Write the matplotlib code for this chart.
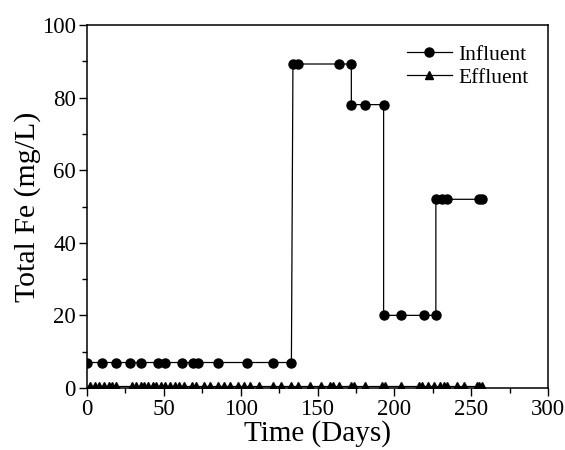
import matplotlib
matplotlib.use("Agg")
import matplotlib.pyplot as plt
from matplotlib.ticker import MultipleLocator

plt.rcParams['font.family'] = ['Liberation Serif', 'DejaVu Serif']

# Influent total Fe (mg/L) by day
inf_days = [0, 10, 19, 28, 35, 46, 51, 62, 69, 72, 85, 104, 121, 133,
            134, 137, 164, 172,
            172, 181, 193,
            193, 204, 219, 227,
            227, 231, 234, 255, 257]
inf_fe = [7.0] * 14 + [89.3] * 4 + [78.1] * 3 + [20.0] * 4 + [52.0] * 5

# Effluent total Fe (mg/L) by day
eff_days = [2, 5, 8, 11, 14, 16, 19, 29, 32, 35, 37, 40, 43, 45, 48, 51, 54,
            57, 60, 63, 68, 71, 76, 80, 85, 89, 93, 98, 102, 106, 112, 121,
            126, 133, 137, 145, 152, 158, 160, 164, 172, 174, 181, 192, 194,
            204, 216, 218, 222, 226, 230, 232, 234, 241, 245, 254, 255, 257]
eff_fe = [0.5] * len(eff_days)

fig = plt.figure(figsize=(5.65, 4.5), dpi=100)
ax = fig.add_axes([0.154, 0.138, 0.816, 0.806])

ax.plot(inf_days, inf_fe, color='black', lw=0.9, marker='o', ms=6.5,
        label='Influent')
ax.plot(eff_days, eff_fe, color='black', lw=0.9, marker='^', ms=6,
        label='Effluent')

ax.set_xlim(0, 300)
ax.set_ylim(0, 100)
ax.xaxis.set_major_locator(MultipleLocator(50))
ax.xaxis.set_minor_locator(MultipleLocator(25))
ax.yaxis.set_major_locator(MultipleLocator(20))
ax.yaxis.set_minor_locator(MultipleLocator(10))
ax.tick_params(which='both', direction='out', top=False, right=False,
               labelsize=16.5, width=1, pad=2)
ax.tick_params(which='major', length=6)
ax.tick_params(which='minor', length=3.5)
for s in ax.spines.values():
    s.set_linewidth(1.1)

ax.set_xlabel('Time (Days)', fontsize=21, labelpad=0)
ax.set_ylabel('Total Fe (mg/L)', fontsize=21.5, labelpad=1)

ax.legend(loc='upper right', frameon=False, fontsize=15.5, handlelength=2.1,
          handletextpad=0.3, labelspacing=0.15, borderaxespad=0.5)

fig.savefig('out.png', dpi=100)
